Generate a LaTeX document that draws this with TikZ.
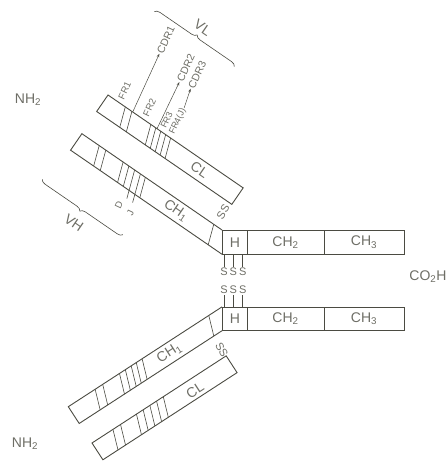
\documentclass[tikz,border=0pt]{standalone}
\usepackage{fontspec}
\setmainfont{Liberation Sans}
\usetikzlibrary{arrows.meta,decorations.pathreplacing}
\definecolor{inkline}{HTML}{4B4B42}
\definecolor{inktext}{HTML}{6E6E66}
\tikzset{
  chainline/.style={draw=inkline,line width=0.9pt},
  band/.style={draw=inkline,line width=0.6pt},
  tag/.style={text=inktext,inner sep=1pt,font=\fontsize{14}{16}\selectfont},
  smalltag/.style={text=inktext,inner sep=1pt,font=\fontsize{9.5}{11}\selectfont},
  frtag/.style={smalltag,rotate=65,anchor=west},
  cdrtag/.style={smalltag,font=\fontsize{10.5}{12}\selectfont,rotate=65,anchor=west},
  sulfur/.style={text=inktext,inner sep=1pt,font=\fontsize{11}{13}\selectfont},
  cdrarrow/.style={draw=inkline,line width=0.5pt,-{Stealth[length=3.5pt,width=2.6pt]}},
  vbrace/.style={draw=inkline,line width=0.6pt,decorate,decoration={brace,amplitude=5pt}}
}

\begin{document}
\begin{tikzpicture}[x=1pt,y=-1pt]
\useasboundingbox (0,0) rectangle (446,462);

\draw[chainline] (222,230) rectangle (404,254.3);
\draw[band] (247,230) -- (247,254.3) (324,230) -- (324,254.3);
\node[tag] (hup) at (235,242.2) {H};
\node[tag] (chtwoup) at (285.5,242.2) {CH\textsubscript{2}};
\node[tag] (chthreeup) at (364,242.2) {CH\textsubscript{3}};

\draw[chainline] (222,307) rectangle (404,330.8);
\draw[band] (247,307) -- (247,330.8) (324,307) -- (324,330.8);
\node[tag] (hdown) at (235,319) {H};
\node[tag] (chtwodown) at (285.5,319) {CH\textsubscript{2}};
\node[tag] (chthreedown) at (364,319) {CH\textsubscript{3}};

\foreach \x [count=\i] in {224,233.3,242.7} {
  \node[sulfur] (sup\i) at (\x,272) {S};
  \node[sulfur] (sdown\i) at (\x,290) {S};
  \draw[band] (\x,254.3) -- (sup\i.north);
  \draw[band] (sdown\i.south) -- (\x,307);
}

\node[tag] (nup) at (28,100) {NH\textsubscript{2}};
\node[tag] (ndown) at (25,444) {NH\textsubscript{2}};
\node[tag] (cooh) at (428,277) {CO\textsubscript{2}H};

\begin{scope}[shift={(108,95)},rotate=-34.5]
  \draw[chainline] (0,0) rectangle (164,20);
  \foreach \s in {21,29,52,58,64,70,76} \draw[band] (\s,0) -- (\s+7,20);
  \node[tag,rotate=-34.5] (clup) at (118,10) {CL};
  \node[frtag] (frone) at (13,-3) {FR1};
  \node[frtag] (frtwo) at (43,-3) {FR2};
  \node[frtag,font=\fontsize{9}{11}\selectfont] (frthree) at (64,-3) {FR3};
  \node[frtag,font=\fontsize{9}{11}\selectfont] (frfour) at (75,-3) {FR4(J)};
  \coordinate (cdronebase) at (30,0);
  \coordinate (cdrtwobase) at (59.5,0);
  \node[cdrtag] (cdrone) at (19,-63) {CDR1};
  \node[cdrtag] (cdrtwo) at (51.5,-51) {CDR2};
  \node[cdrtag] (cdrthree) at (64.5,-52) {CDR3};
  \draw[cdrarrow] (cdronebase) -- (cdrone.west);
  \draw[cdrarrow] (cdrtwobase) -- (cdrtwo.west);
  \draw[cdrarrow] (frfour.east) -- (cdrthree.west);
  \draw[vbrace] (-9,-95) -- (88,-95);
  \node[tag,rotate=-34.5] (vl) at (40,-109) {VL};
\end{scope}

\begin{scope}[shift={(81.9,133.7)},rotate=-34.5]
  \draw[chainline] (183.75,20) -- (0,20) -- (0,0) -- (170,0);
  \foreach \s in {21,29,50,57,64,71,77} \draw[band] (\s,0) -- (\s+7,20);
  \draw[band] (160,0) -- (167,20);
  \draw[band] (71,20) -- (73.8,28) (78,20) -- (80.8,28);
  \node[smalltag,rotate=65] (dseg) at (71,38) {D};
  \node[smalltag,rotate=65] (jseg) at (85,38) {J};
  \node[tag,rotate=-34.5] (choneup) at (121,10) {CH\textsubscript{1}};
  \draw[vbrace] (91,60) -- (-7,60);
  \node[tag,rotate=-34.5] (vh) at (44,78) {VH};
\end{scope}
\node[sulfur,rotate=60] (ssup) at (223,212) {SS};

\begin{scope}[shift={(68.3,406.7)},rotate=33]
  \draw[chainline] (170.3,20) -- (0,20) -- (0,0) -- (183.3,0);
  \foreach \s in {32,41,61,68,75,81,88} \draw[band] (\s,0) -- (\s-7,20);
  \draw[band] (167.5,0) -- (160.5,20);
  \node[tag,rotate=33] (chonedown) at (114,10) {CH\textsubscript{1}};
\end{scope}
\node[sulfur,rotate=-60] (ssdown) at (221.7,350) {SS};

\begin{scope}[shift={(92,443)},rotate=33]
  \draw[chainline] (0,0) rectangle (160,20);
  \foreach \s in {25,34,53,61,69,77,85} \draw[band] (\s,0) -- (\s-7,20);
  \node[tag,rotate=33] (cldown) at (115,12) {CL};
\end{scope}
\end{tikzpicture}
\end{document}
